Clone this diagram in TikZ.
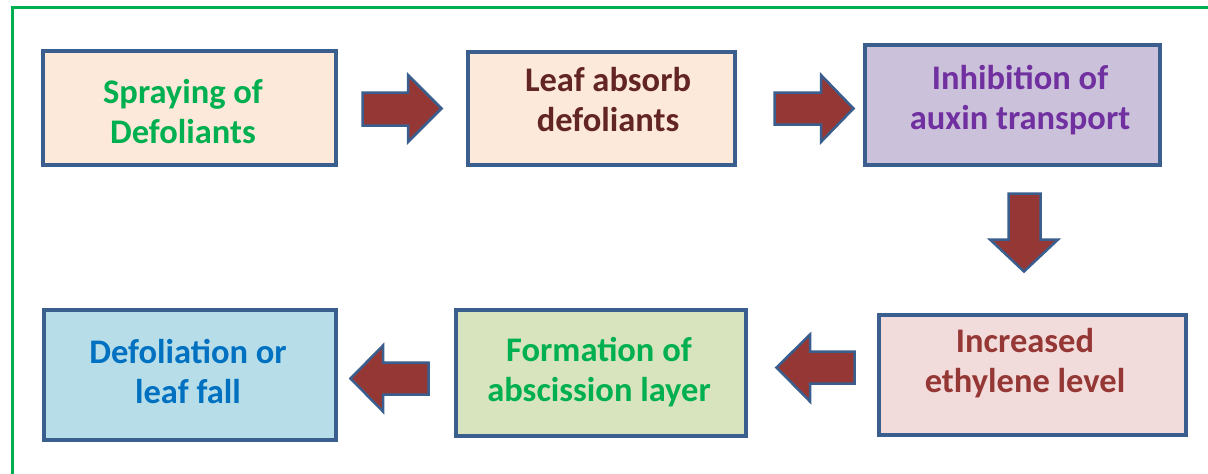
\documentclass[tikz,border=0pt]{standalone}
\usepackage{fontspec}
\setmainfont{Carlito}
\definecolor{frameg}{HTML}{00B050}
\definecolor{boxline}{HTML}{3A5F8E}
\definecolor{arrfill}{HTML}{953735}
\definecolor{peach}{HTML}{FDE9D9}
\definecolor{lav}{HTML}{CCC1DA}
\definecolor{pinkf}{HTML}{F2DCDB}
\definecolor{greenf}{HTML}{D7E4BD}
\definecolor{bluef}{HTML}{B7DEE8}
\definecolor{tgreen}{HTML}{00B050}
\definecolor{tbrown}{HTML}{632523}
\definecolor{tpurple}{HTML}{7030A0}
\definecolor{tred}{HTML}{953735}
\definecolor{tblue}{HTML}{0070C0}
\tikzset{
  stagebox/.style={draw=boxline, line width=3.5pt, rectangle, inner sep=0pt},
  stagetext/.style={align=center, font=\fontsize{34.5}{40}\selectfont\bfseries, inner sep=0pt},
  blockarrow/.style={draw=boxline, fill=arrfill, line width=2.5pt, line join=miter},
}
\begin{document}
\begin{tikzpicture}[x=1pt, y=-1pt]
\useasboundingbox (0,0) rectangle (1208,474);
% outer frame
\draw[frameg, line width=3pt] (12,480) -- (12,7) -- (1215,7);
% boxes
\node[stagebox, fill=peach, minimum width=293pt, minimum height=114pt] (b1) at (189.5,108) {};
\node[stagebox, fill=peach, minimum width=267pt, minimum height=113pt] (b2) at (601.5,108.5) {};
\node[stagebox, fill=lav, minimum width=295pt, minimum height=120pt] (b3) at (1012.5,105) {};
\node[stagebox, fill=pinkf, minimum width=307pt, minimum height=120pt] (b4) at (1032.5,375) {};
\node[stagebox, fill=greenf, minimum width=290pt, minimum height=126pt] (b5) at (601,373) {};
\node[stagebox, fill=bluef, minimum width=292pt, minimum height=130pt] (b6) at (190,375) {};
% texts
\node[stagetext, text=tgreen] (t1) at (183,112) {Spraying of\\Defoliants};
\node[stagetext, text=tbrown] (t2) at (608,100) {Leaf absorb\\defoliants};
\node[stagetext, text=tpurple] (t3) at (1020,100.5) {Inhibition of\\auxin transport};
\node[stagetext, text=tred] (t4) at (1025,363) {Increased\\ethylene level};
\node[stagetext, text=tgreen] (t5) at (599,372) {Formation of\\abscission layer};
\node[stagetext, text=tblue] (t6) at (188,371.5) {Defoliation or\\leaf fall};
% block arrows
\draw[blockarrow] (362.5,92.5) -- (408,92.5) -- (408,75) -- (441.5,108.5) -- (408,142) -- (408,125.5) -- (362.5,125.5) -- cycle;
\draw[blockarrow] (774.5,92.5) -- (821,92.5) -- (821,75) -- (853.5,108.5) -- (821,142) -- (821,124.5) -- (774.5,124.5) -- cycle;
\draw[blockarrow] (1008.5,193.5) -- (1040.5,193.5) -- (1040.5,239.5) -- (1058,239.5) -- (1024,271.5) -- (990,239.5) -- (1008.5,239.5) -- cycle;
\draw[blockarrow] (776.5,367.5) -- (810,334.5) -- (810,351.5) -- (854.5,351.5) -- (854.5,383.5) -- (810,383.5) -- (810,401.5) -- cycle;
\draw[blockarrow] (350.5,378.5) -- (383,345.5) -- (383,362.5) -- (428.5,362.5) -- (428.5,394.5) -- (383,394.5) -- (383,411.5) -- cycle;
\end{tikzpicture}
\end{document}
